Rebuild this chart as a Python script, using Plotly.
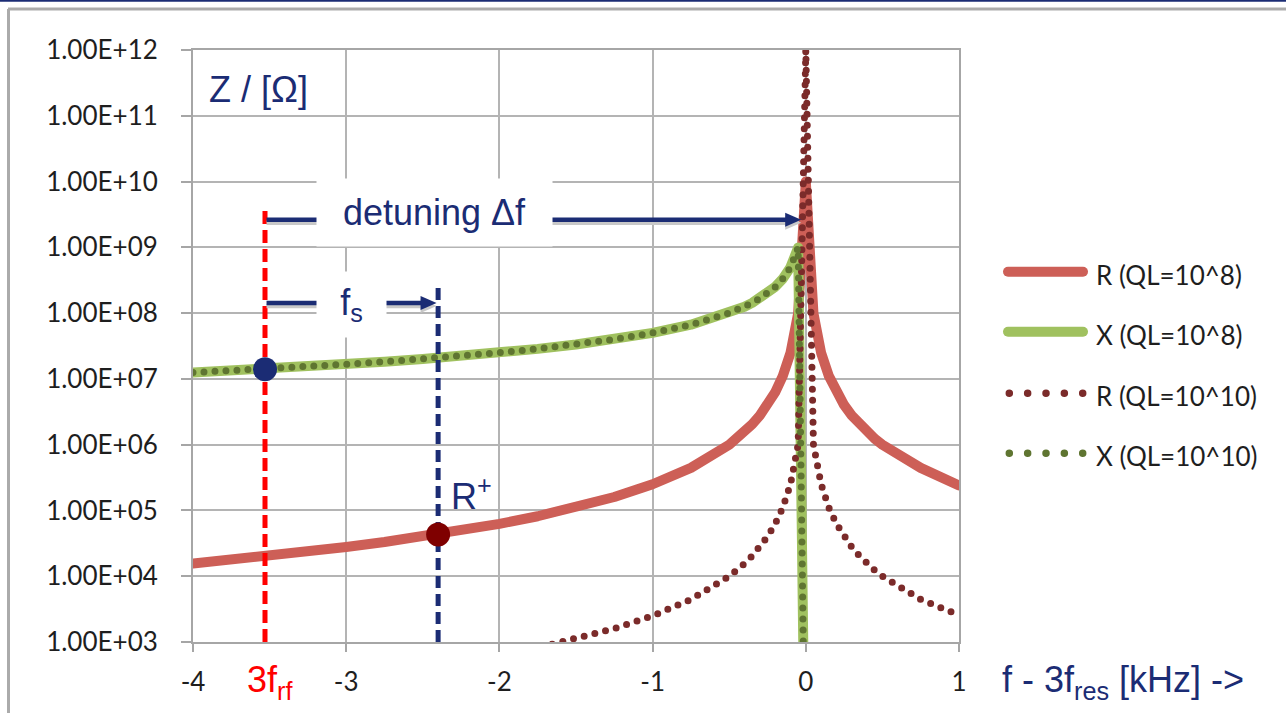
import json
import plotly.graph_objects as go

# Detuning from the resonance, kHz
detuning_khz = [-4.0, -3.75, -3.5, -3.25, -3.0, -2.75, -2.5, -2.25, -2.0, -1.75,
                -1.5, -1.25, -1.0, -0.75, -0.5, -0.45, -0.4, -0.35, -0.3, -0.25,
                -0.2, -0.15, -0.1, -0.05, 0.0, 0.05, 0.1, 0.15, 0.2, 0.25,
                0.3, 0.35, 0.4, 0.45, 0.5, 0.75, 1.0]

# Real part of the impedance, QL = 1e8 (Ohm)
r_ql8 = [1.56e4, 1.78e4, 2.04e4, 2.37e4, 2.78e4, 3.31e4, 4.0e4, 4.94e4, 6.25e4, 8.16e4,
         1.11e5, 1.6e5, 2.5e5, 4.44e5, 1.0e6, 1.23e6, 1.56e6, 2.04e6, 2.78e6, 4.0e6,
         6.25e6, 1.11e7, 2.49e7, 9.9e7, 1.0e10, 9.9e7, 2.49e7, 1.11e7, 6.25e6, 4.0e6,
         2.78e6, 2.04e6, 1.56e6, 1.23e6, 1.0e6, 4.44e5, 2.4e5]

# Reactive part, QL = 1e8 (Ohm); zero at resonance is placed at 1 Ohm on the log axis
x_ql8 = [1.25e7, 1.33e7, 1.43e7, 1.54e7, 1.67e7, 1.82e7, 2.0e7, 2.22e7, 2.5e7, 2.86e7,
         3.33e7, 4.0e7, 5.0e7, 6.67e7, 1.0e8, 1.11e8, 1.25e8, 1.43e8, 1.67e8, 2.0e8,
         2.5e8, 3.33e8, 4.99e8, 9.9e8, 1.0, None, None, None, None, None,
         None, None, None, None, None, None, None]

# Real part, QL = 1e10 (Ohm)
r_ql10 = [1.56e2, 1.78e2, 2.04e2, 2.37e2, 2.78e2, 3.31e2, 4.0e2, 4.94e2, 6.25e2, 8.16e2,
          1.11e3, 1.6e3, 2.5e3, 4.44e3, 1.0e4, 1.23e4, 1.56e4, 2.04e4, 2.78e4, 4.0e4,
          6.25e4, 1.11e5, 2.5e5, 1.0e6, 1.0e12, 1.0e6, 2.5e5, 1.11e5, 6.25e4, 4.0e4,
          2.78e4, 2.04e4, 1.56e4, 1.23e4, 1.0e4, 4.44e3, 2.56e3]

# Reactive part, QL = 1e10 (Ohm)
x_ql10 = [1.25e7, 1.33e7, 1.43e7, 1.54e7, 1.67e7, 1.82e7, 2.0e7, 2.22e7, 2.5e7, 2.86e7,
          3.33e7, 4.0e7, 5.0e7, 6.67e7, 1.0e8, 1.11e8, 1.25e8, 1.43e8, 1.67e8, 2.0e8,
          2.5e8, 3.33e8, 4.99e8, 1.0e9, 1.0, None, None, None, None, None,
          None, None, None, None, None, None, None]

series_names = ["R (QL=10^8)", "X (QL=10^8)", "R (QL=10^10)", "X (QL=10^10)"]

# Operating points
f_rf3 = -3.53          # 3 f_rf position, kHz
x_at_rf = 1.4e7        # X at 3 f_rf, Ohm
f_sideband = -2.40     # 3 f_rf + f_s, kHz
r_plus = 4.3e4         # R+ at the upper sideband, Ohm

# Vertical guide extents (Ohm)
rf_guide = [1e3, 4.3e9]
fs_guide = [1e3, 2.4e8]

# Annotation arrows: (start, tip, level in Ohm)
detuning_arrow = (f_rf3, -0.03, 2.63e9)
fs_arrow = (f_rf3, -2.41, 1.42e8)

y_tick_vals = [1e3, 1e4, 1e5, 1e6, 1e7, 1e8, 1e9, 1e10, 1e11, 1e12]
y_tick_text = ["1.00E+03", "1.00E+04", "1.00E+05", "1.00E+06", "1.00E+07",
               "1.00E+08", "1.00E+09", "1.00E+10", "1.00E+11", "1.00E+12"]
x_tick_vals = [-4, -3, -2, -1, 0, 1]
x_tick_text = ["-4", "-3", "-2", "-1", "0", "1"]

NAVY = "#1b2c74"
RED_LINE = "#cd5f57"
GREEN_LINE = "#a0c15f"
RED_DOT = "#7b2b2a"
GREEN_DOT = "#5f7531"
GRID = "#b4b4b4"
AXIS = "#a6a6a6"
TICK_FONT = dict(family="Lato, Open Sans, sans-serif", size=26, color="#1e1e1e")
BIG_FONT = "Liberation Sans, Arial, sans-serif"

ML, MR, MT, MB = 193, 327, 50, 71
W, H = 1286, 713
PW, PH = W - ML - MR, H - MT - MB


def px_x(px):
    return (px - ML) / PW


def px_y(py):
    return (H - MB - py) / PH


fig = go.Figure()

# Impedance curves (first four traces; dotted ones get round dots via the stylesheet)
fig.add_trace(go.Scatter(x=detuning_khz, y=r_ql8, mode="lines", name=series_names[0],
                         line=dict(color=RED_LINE, width=10), showlegend=False))
fig.add_trace(go.Scatter(x=detuning_khz, y=x_ql8, mode="lines", name=series_names[1],
                         line=dict(color=GREEN_LINE, width=10), showlegend=False,
                         connectgaps=False))
fig.add_trace(go.Scatter(x=detuning_khz, y=r_ql10, mode="lines", name=series_names[2],
                         line=dict(color=RED_DOT, width=7, dash="0px,11px"), showlegend=False))
fig.add_trace(go.Scatter(x=detuning_khz, y=x_ql10, mode="lines", name=series_names[3],
                         line=dict(color=GREEN_DOT, width=7, dash="0px,11px"), showlegend=False,
                         connectgaps=False))

# Dashed guides at 3 f_rf and at the sideband
fig.add_trace(go.Scatter(x=[f_rf3, f_rf3], y=rf_guide, mode="lines", showlegend=False,
                         line=dict(color="#ff0000", width=5, dash="13px,6px")))
fig.add_trace(go.Scatter(x=[f_sideband, f_sideband], y=fs_guide, mode="lines",
                         showlegend=False, line=dict(color=NAVY, width=5, dash="12px,6px")))

# Operating-point markers
fig.add_trace(go.Scatter(x=[f_rf3], y=[x_at_rf], mode="markers", showlegend=False,
                         marker=dict(size=24, color=NAVY, line=dict(width=0))))
fig.add_trace(go.Scatter(x=[f_sideband], y=[r_plus], mode="markers", showlegend=False,
                         marker=dict(size=24, color="#7f0000", line=dict(width=0))))

shapes = []
# Legend samples (indices 0-3 get round caps via the stylesheet below)
legend_rows = [271.7, 331.7, 393.3, 453.3]
legend_styles = [(RED_LINE, 10, "solid", 1008, 1083),
                 (GREEN_LINE, 10, "solid", 1008, 1083),
                 (RED_DOT, 7.5, "0px,18.35px", 1009.3, 1083.5),
                 (GREEN_DOT, 7.5, "0px,18.35px", 1009.3, 1083.5)]
for row, (col, wd, dash, xa, xb) in zip(legend_rows, legend_styles):
    shapes.append(dict(type="line", xref="paper", yref="paper",
                       x0=px_x(xa), x1=px_x(xb), y0=px_y(row), y1=px_y(row),
                       line=dict(color=col, width=wd, dash=dash), layer="above"))

# Slide frame
shapes.append(dict(type="line", xref="paper", yref="paper", x0=px_x(0), x1=px_x(W),
                   y0=px_y(0.8), y1=px_y(0.8), line=dict(color=NAVY, width=2)))
shapes.append(dict(type="line", xref="paper", yref="paper", x0=px_x(8), x1=px_x(W),
                   y0=px_y(9), y1=px_y(9), line=dict(color="#ababab", width=3)))
shapes.append(dict(type="line", xref="paper", yref="paper", x0=px_x(8.5), x1=px_x(8.5),
                   y0=px_y(9), y1=px_y(H), line=dict(color="#ababab", width=3)))

# Horizontal arrows with a soft drop shadow
HEAD = "M0,0 L-16,7 L-16,-7 Z"
for (x_start, x_tip, level) in [detuning_arrow, fs_arrow]:
    for col, drop in [("#c8c8c8", 10 ** (-3 / 65.8)), (NAVY, 1.0)]:
        shapes.append(dict(type="line", xref="x", yref="y", x0=x_start + 0.01,
                           x1=x_tip - 0.06, y0=level * drop, y1=level * drop,
                           line=dict(color=col, width=4.5), layer="above"))
        shapes.append(dict(type="path", xref="x", yref="y", xsizemode="pixel",
                           ysizemode="pixel", xanchor=x_tip, yanchor=level * drop,
                           path=HEAD, fillcolor=col, line=dict(width=0), layer="above"))

annotations = []
# Labels on white boxes
annotations.append(dict(x=-2.425, y=9.525, xref="x", yref="y", text="detuning \u0394f",
                        showarrow=False, bgcolor="white", width=235, height=67, borderpad=0,
                        font=dict(family=BIG_FONT, size=36, color=NAVY)))
annotations.append(dict(x=-2.966, y=8.128, xref="x", yref="y", text="f<sub>s</sub>",
                        showarrow=False, bgcolor="white", width=69, height=65, borderpad=0,
                        font=dict(family=BIG_FONT, size=36, color=NAVY)))

annotations.append(dict(x=px_x(207), y=px_y(89), xref="paper", yref="paper",
                        text="Z / [\u03a9]", showarrow=False, xanchor="left", yanchor="middle",
                        font=dict(family=BIG_FONT, size=36, color=NAVY)))
annotations.append(dict(x=-2.33, y=5.25, xref="x", yref="y", text="R<sup>+</sup>",
                        showarrow=False, xanchor="left", yanchor="middle",
                        font=dict(family=BIG_FONT, size=36, color=NAVY)))
annotations.append(dict(x=f_rf3 + 0.03, y=px_y(682), xref="x", yref="paper",
                        text="3f<sub>rf</sub>", showarrow=False, xanchor="center",
                        yanchor="middle", font=dict(family=BIG_FONT, size=36, color="#ff0000")))
annotations.append(dict(x=px_x(1000), y=px_y(682), xref="paper", yref="paper",
                        text="f - 3f<sub>res</sub> [kHz] ->", showarrow=False,
                        xanchor="left", yanchor="middle",
                        font=dict(family=BIG_FONT, size=36, color=NAVY)))

# Legend texts
for row, name in zip(legend_rows, series_names):
    annotations.append(dict(x=px_x(1094), y=px_y(row + 3), xref="paper", yref="paper",
                            text=name, showarrow=False, xanchor="left", yanchor="middle",
                            font=dict(family="Lato, Open Sans, sans-serif", size=26,
                                      color="#1e1e1e")))

fig.update_layout(
    width=W, height=H,
    margin=dict(l=ML, r=MR, t=MT, b=MB, pad=0, autoexpand=False),
    paper_bgcolor="white", plot_bgcolor="white",
    showlegend=False,
    shapes=shapes,
    annotations=annotations,
    xaxis=dict(range=[-4, 1], tickvals=x_tick_vals, ticktext=x_tick_text,
               showgrid=True, gridcolor=GRID, gridwidth=2, zeroline=False,
               showline=True, linecolor=AXIS, linewidth=2, mirror=True,
               ticks="outside", ticklen=8, tickwidth=2, tickcolor=AXIS,
               tickfont=TICK_FONT, ticklabelstandoff=8, automargin=False),
    yaxis=dict(type="log", range=[3, 12], tickvals=y_tick_vals, ticktext=y_tick_text,
               showgrid=True, gridcolor=GRID, gridwidth=2, zeroline=False,
               showline=True, linecolor=AXIS, linewidth=2, mirror=True,
               ticks="outside", ticklen=10, tickwidth=2, tickcolor=AXIS,
               tickfont=TICK_FONT, ticklabelstandoff=18, automargin=False),
)

css = (".scatterlayer .trace:nth-child(-n+4) .js-line"
       "{stroke-linecap:round;stroke-linejoin:round}"
       ".shapelayer path[data-index='0'],.shapelayer path[data-index='1'],"
       ".shapelayer path[data-index='2'],.shapelayer path[data-index='3']"
       "{stroke-linecap:round}")
post = ("var st=document.createElement('style');st.textContent=" + json.dumps(css) +
        ";document.head.appendChild(st);")

fig.write_html("out.html", post_script=post,
               config={"displayModeBar": False, "responsive": False})
